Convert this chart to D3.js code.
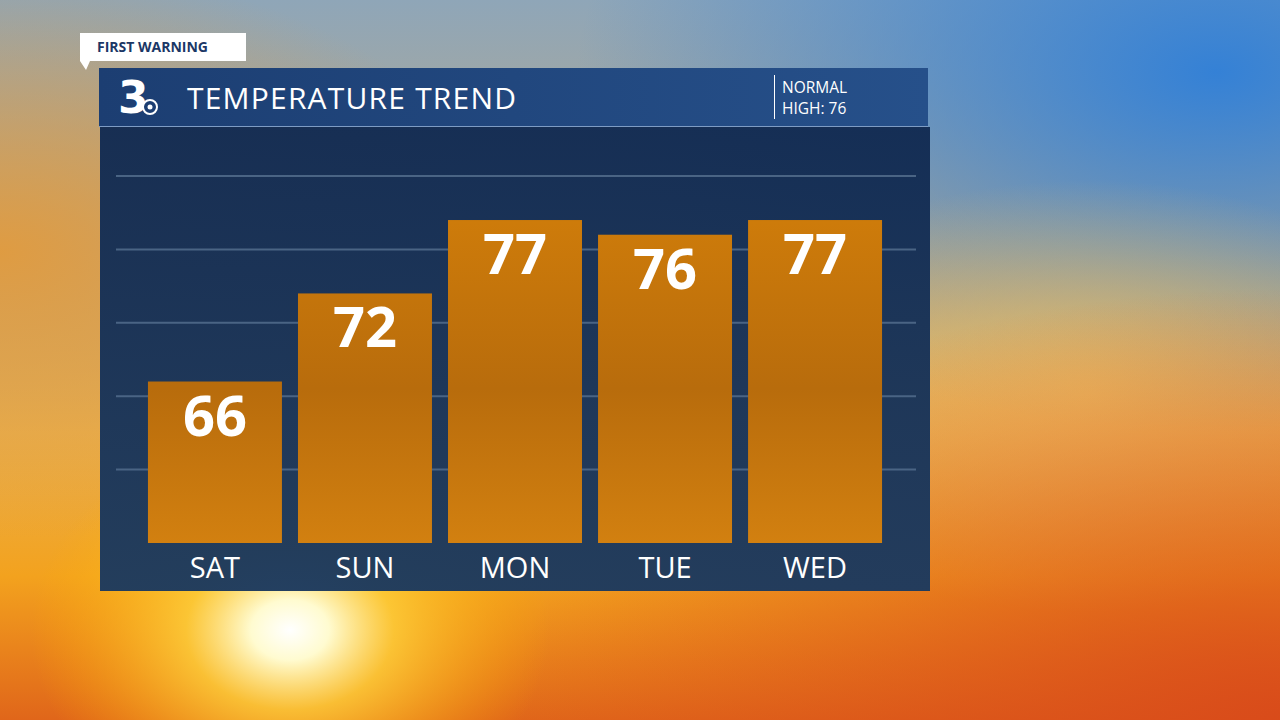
<!DOCTYPE html>
<html><head><meta charset="utf-8">
<script src="https://cdn.jsdelivr.net/npm/d3@7"></script>
<style>body{margin:0;overflow:hidden;background:#000}svg{display:block}</style>
</head><body>
<svg id="chart" width="1280" height="720"></svg>
<script>
// forecast data
const days = ["SAT", "SUN", "MON", "TUE", "WED"];
const highs = [66, 72, 77, 76, 77];
const gridTemps = [60, 65, 70, 75, 80];
const normalHigh = 76;

const svg = d3.select("#chart");
const defs = svg.append("defs");

// sky background
let sky = defs.append("linearGradient").attr("id", "sky").attr("x1", 0).attr("y1", 0).attr("x2", 0).attr("y2", 1);
[[0, "#8fa6b8"], [0.35, "#b9a98a"], [0.6, "#e8b050"], [0.8, "#f3a21e"], [1, "#e0661a"]]
  .forEach(s => sky.append("stop").attr("offset", s[0]).attr("stop-color", s[1]));
let blue = defs.append("radialGradient").attr("id", "blue").attr("cx", 0.95).attr("cy", 0.1).attr("r", 0.5);
blue.append("stop").attr("offset", 0).attr("stop-color", "#2f7fd8").attr("stop-opacity", 0.95);
blue.append("stop").attr("offset", 1).attr("stop-color", "#2f7fd8").attr("stop-opacity", 0);
let warmLeft = defs.append("radialGradient").attr("id", "warmLeft").attr("cx", 0).attr("cy", 0.35).attr("r", 0.4);
warmLeft.append("stop").attr("offset", 0).attr("stop-color", "#e39a3a").attr("stop-opacity", 0.9);
warmLeft.append("stop").attr("offset", 1).attr("stop-color", "#e39a3a").attr("stop-opacity", 0);
let warmRight = defs.append("radialGradient").attr("id", "warmRight").attr("cx", 0.85).attr("cy", 0.55).attr("r", 0.3);
warmRight.append("stop").attr("offset", 0).attr("stop-color", "#f0c060").attr("stop-opacity", 0.8);
warmRight.append("stop").attr("offset", 1).attr("stop-color", "#f0c060").attr("stop-opacity", 0);
let sun = defs.append("radialGradient").attr("id", "sun");
[[0, "#ffffff", 1], [0.15, "#fffbd0", 1], [0.4, "#ffd23a", 0.8], [1, "#ffb000", 0]]
  .forEach(s => sun.append("stop").attr("offset", s[0]).attr("stop-color", s[1]).attr("stop-opacity", s[2]));
let redR = defs.append("radialGradient").attr("id", "redR").attr("cx", 1).attr("cy", 1).attr("r", 0.6);
redR.append("stop").attr("offset", 0).attr("stop-color", "#d8481a").attr("stop-opacity", 0.9);
redR.append("stop").attr("offset", 1).attr("stop-color", "#d8481a").attr("stop-opacity", 0);

svg.append("rect").attr("width", 1280).attr("height", 720).attr("fill", "url(#sky)");
svg.append("rect").attr("width", 1280).attr("height", 720).attr("fill", "url(#blue)");
svg.append("rect").attr("width", 1280).attr("height", 720).attr("fill", "url(#warmLeft)");
svg.append("rect").attr("width", 1280).attr("height", 720).attr("fill", "url(#warmRight)");
svg.append("rect").attr("width", 1280).attr("height", 720).attr("fill", "url(#redR)");
svg.append("ellipse").attr("cx", 290).attr("cy", 630).attr("rx", 260).attr("ry", 200).attr("fill", "url(#sun)");

// panel
let panelG = defs.append("linearGradient").attr("id", "panel").attr("x1", 0).attr("y1", 0).attr("x2", 0).attr("y2", 1);
panelG.append("stop").attr("offset", 0).attr("stop-color", "#122b52");
panelG.append("stop").attr("offset", 1).attr("stop-color", "#1d3a5e");
svg.append("rect").attr("x", 100).attr("y", 127).attr("width", 830).attr("height", 464).attr("fill", "url(#panel)").attr("opacity", 0.97);

// header
let headG = defs.append("linearGradient").attr("id", "head").attr("x1", 0).attr("x2", 1);
headG.append("stop").attr("offset", 0).attr("stop-color", "#1c3e72");
headG.append("stop").attr("offset", 1).attr("stop-color", "#26508a");
svg.append("rect").attr("x", 99).attr("y", 68).attr("width", 829).attr("height", 58).attr("fill", "url(#head)");
svg.append("line").attr("x1", 99).attr("x2", 928).attr("y1", 126.5).attr("y2", 126.5).attr("stroke", "#7e9cc4").attr("stroke-width", 1);
svg.append("text").attr("x", 187).attr("y", 109).attr("fill", "#fff").attr("font-family", "Open Sans").attr("font-size", 30).attr("letter-spacing", 1.2).text("TEMPERATURE TREND");
svg.append("line").attr("x1", 774.5).attr("x2", 774.5).attr("y1", 75).attr("y2", 119).attr("stroke", "#fff").attr("stroke-width", 1);
svg.append("text").attr("x", 782).attr("y", 93).attr("fill", "#fff").attr("font-family", "Open Sans").attr("font-size", 15.5).text("NORMAL");
svg.append("text").attr("x", 782).attr("y", 114).attr("fill", "#fff").attr("font-family", "Open Sans").attr("font-size", 15.5).text("HIGH: " + normalHigh);
// logo
svg.append("text").attr("x", 118).attr("y", 113).attr("fill", "#fff").attr("font-family", "DejaVu Sans").attr("font-weight", "bold").attr("font-size", 44).text("3");
svg.append("circle").attr("cx", 150).attr("cy", 107).attr("r", 7).attr("fill", "#1c3e72").attr("stroke", "#fff").attr("stroke-width", 2);
svg.append("circle").attr("cx", 150).attr("cy", 107).attr("r", 2.5).attr("fill", "#fff");

// first warning tab
svg.append("path").attr("d", "M80,33H246V61H90L86,70L80,61Z").attr("fill", "#fff");
svg.append("text").attr("x", 97).attr("y", 52).attr("fill", "#1b3766").attr("font-family", "Open Sans").attr("font-weight", "bold").attr("font-size", 14).text("FIRST WARNING");

// chart
const x = d3.scaleBand().domain(days).range([140, 890]).paddingInner(0.107).paddingOuter(0.053);
const y = d3.scaleLinear().domain([55, 80]).range([543, 176]);

svg.append("g").selectAll("line").data(gridTemps).join("line")
  .attr("x1", 116).attr("x2", 916)
  .attr("y1", d => y(d)).attr("y2", d => y(d))
  .attr("stroke", "#4a6484").attr("stroke-width", 2);

let barG = defs.append("linearGradient").attr("id", "bar").attr("x1", 0).attr("x2", 0).attr("gradientUnits", "userSpaceOnUse").attr("y1", 200).attr("y2", 543);
[[0, "#d07d0a"], [0.55, "#b86c0c"], [1, "#d28010"]].forEach(s => barG.append("stop").attr("offset", s[0]).attr("stop-color", s[1]));

svg.append("g").selectAll("rect").data(highs).join("rect")
  .attr("x", (d, i) => x(days[i])).attr("width", x.bandwidth())
  .attr("y", d => y(d)).attr("height", d => y(55) - y(d))
  .attr("fill", "url(#bar)");

svg.append("g").selectAll("text").data(highs).join("text")
  .attr("x", (d, i) => x(days[i]) + x.bandwidth() / 2).attr("y", d => y(d) + 54)
  .attr("text-anchor", "middle").attr("fill", "#fff")
  .attr("font-family", "Open Sans").attr("font-weight", "bold").attr("font-size", 56)
  .text(d => d);

svg.append("g").selectAll("text").data(days).join("text")
  .attr("x", d => x(d) + x.bandwidth() / 2).attr("y", 578)
  .attr("text-anchor", "middle").attr("fill", "#fff")
  .attr("font-family", "Open Sans").attr("font-size", 29)
  .text(d => d);
</script>
</body></html>
